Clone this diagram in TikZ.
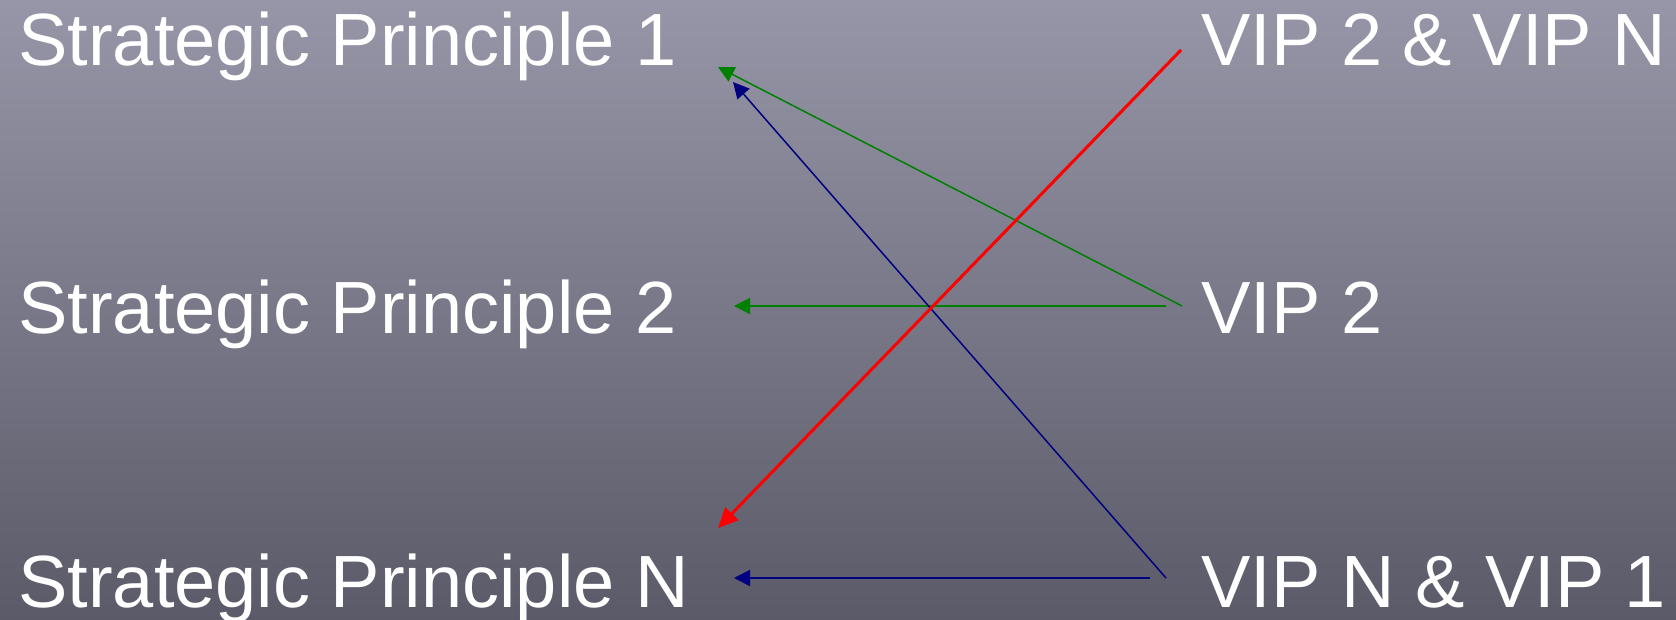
\documentclass[tikz,border=0pt]{standalone}
\usepackage{fontspec}
\setmainfont{Liberation Sans}
\usepackage{xcolor}
\usetikzlibrary{positioning, arrows.meta}

\definecolor{bgtop}{RGB}{150,150,168}
\definecolor{bgbottom}{RGB}{90,90,104}
\definecolor{vipgreen}{RGB}{0,128,0}
\definecolor{vipblue}{RGB}{0,0,128}
\definecolor{vipred}{RGB}{255,0,0}

\begin{document}
\begin{tikzpicture}[
			x=0.5pt, y=-0.5pt,
			lbl/.style={text=white, font=\fontsize{37}{40}\selectfont, inner sep=0pt, anchor=base west},
			arrow/.style={-{Triangle[length=8pt, width=8pt]}},
			bigarrow/.style={-{Triangle[length=10pt, width=9pt]}, line width=1.5pt}
		]

		% Background
		\useasboundingbox (0,0) rectangle (1676,620);
		\shade[top color=bgtop, bottom color=bgbottom] (0,0) rectangle (1676,620);

		% Principles
		\node[lbl] (sp1) at (18,66) {Strategic Principle 1};
		\node[lbl] (sp2) at (18,334) {Strategic Principle 2};
		\node[lbl] (spn) at (18,607) {Strategic Principle N};

		% VIPs
		\node[lbl] (vip2n) at (1201,66) {VIP 2 \& VIP N};
		\node[lbl] (vip2) at (1201,334) {VIP 2};
		\node[lbl] (vipn1) at (1201,607) {VIP N \& VIP 1};

		% Arrow ends
		\coordinate (sp1-g) at (718,67);
		\coordinate (sp1-b) at (733,82);
		\coordinate (sp2-g) at (734,306);
		\coordinate (spn-r) at (718,528);
		\coordinate (spn-b) at (734,578);
		\coordinate (vip2n-r) at (1181,50);
		\coordinate (vip2-g1) at (1182,306);
		\coordinate (vip2-g2) at (1166,306);
		\coordinate (vipn1-b1) at (1166,578);
		\coordinate (vipn1-b2) at (1150,578);

		% Links
		\draw[arrow, vipgreen, line width=0.75pt] (vip2-g1) -- (sp1-g);
		\draw[arrow, vipgreen, line width=1pt] (vip2-g2) -- (sp2-g);
		\draw[arrow, vipblue, line width=0.75pt] (vipn1-b1) -- (sp1-b);
		\draw[arrow, vipblue, line width=1pt] (vipn1-b2) -- (spn-b);
		\draw[bigarrow, vipred] (vip2n-r) -- (spn-r);

		\end{tikzpicture}
\end{document}
